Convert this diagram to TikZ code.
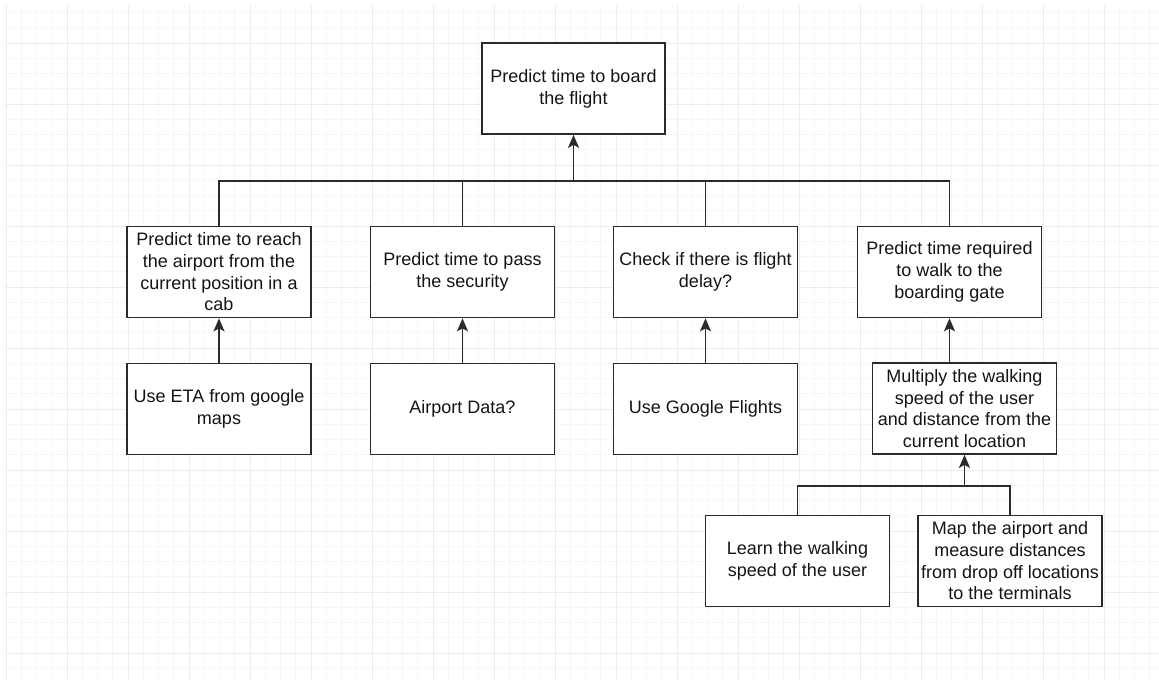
\documentclass[tikz,border=0pt]{standalone}
\usepackage{fontspec}
\setmainfont{Liberation Sans}
\usetikzlibrary{arrows.meta}
\definecolor{ink}{HTML}{2A2A2A}
\definecolor{gridmajor}{HTML}{ECECEC}
\definecolor{gridminor}{HTML}{F6F6F6}
\begin{document}
\begin{tikzpicture}[x=1pt,y=-1pt,
  task/.style={draw=ink, line width=1.7pt, fill=white, minimum width=184pt,
    minimum height=91pt, inner sep=2pt, align=center,
    font=\fontsize{18}{21.7}\selectfont, text=black!92},
  link/.style={draw=ink, line width=1.7pt},
  feed/.style={link, -{Stealth[length=13pt,width=11pt,inset=3pt]}}]
\useasboundingbox (0,0) rectangle (1159,681);
\fill[white] (0,0) rectangle (1159,681);

% background grid
\begin{scope}
  \clip (5,5) rectangle (1159,681);
  \foreach \i in {0,...,76}
    \draw[gridminor, line width=0.8pt] ({6+15.25*\i},0) -- ({6+15.25*\i},681);
  \foreach \j in {0,...,44}
    \draw[gridminor, line width=0.8pt] (0,{12.5+15.25*\j}) -- (1159,{12.5+15.25*\j});
  \foreach \i in {0,...,19}
    \draw[gridmajor, line width=1pt] ({6+61*\i},0) -- ({6+61*\i},681);
  \foreach \j in {0,...,10}
    \draw[gridmajor, line width=1pt] (0,{43+61*\j}) -- (1159,{43+61*\j});
\end{scope}

% goal
\node[task, minimum width=183pt] (top) at (573.5,88.5) {Predict time to board\\the flight};

% sub-goals
\node[task] (b1) at (219,272) {Predict time to reach\\the airport from the\\current position in a\\cab};
\node[task] (b2) at (462.5,272) {Predict time to pass\\the security};
\node[task] (b3) at (705.5,272) {Check if there is flight\\delay?};
\node[task] (b4) at (949.5,272) {Predict time required\\to walk to the\\boarding gate};

% data sources
\node[task] (c1) at (219,409) {Use ETA from google\\maps};
\node[task] (c2) at (462.5,409) {Airport Data?};
\node[task] (c3) at (705.5,409) {Use Google Flights};
\node[task] (mult) at (964.5,408.5) {Multiply the walking\\speed of the user\\and distance from the\\current location};

% inputs of the walking estimate
\node[task] (learn) at (797.5,561) {Learn the walking\\speed of the user};
\node[task] (map) at (1010,561) {Map the airport and\\measure distances\\from drop off locations\\to the terminals};

% junction points
\coordinate (bus) at (573.5,181);
\coordinate (bus2) at (964.5,486);

% top-level bus
\draw[link] (b1.north) |- (bus) -| (b4.north);
\draw[link] (b2.north) -- (b2.north |- bus);
\draw[link] (b3.north) -- (b3.north |- bus);
\draw[feed] (bus) -- (top.south);

% sources feeding sub-goals
\draw[feed] (c1.north) -- (b1.south);
\draw[feed] (c2.north) -- (b2.south);
\draw[feed] (c3.north) -- (b3.south);
\draw[feed] (mult.north -| b4.south) -- (b4.south);

% inputs to the multiplication
\draw[link] (learn.north) |- (bus2) -| (map.north);
\draw[feed] (bus2) -- (mult.south);
\end{tikzpicture}
\end{document}
